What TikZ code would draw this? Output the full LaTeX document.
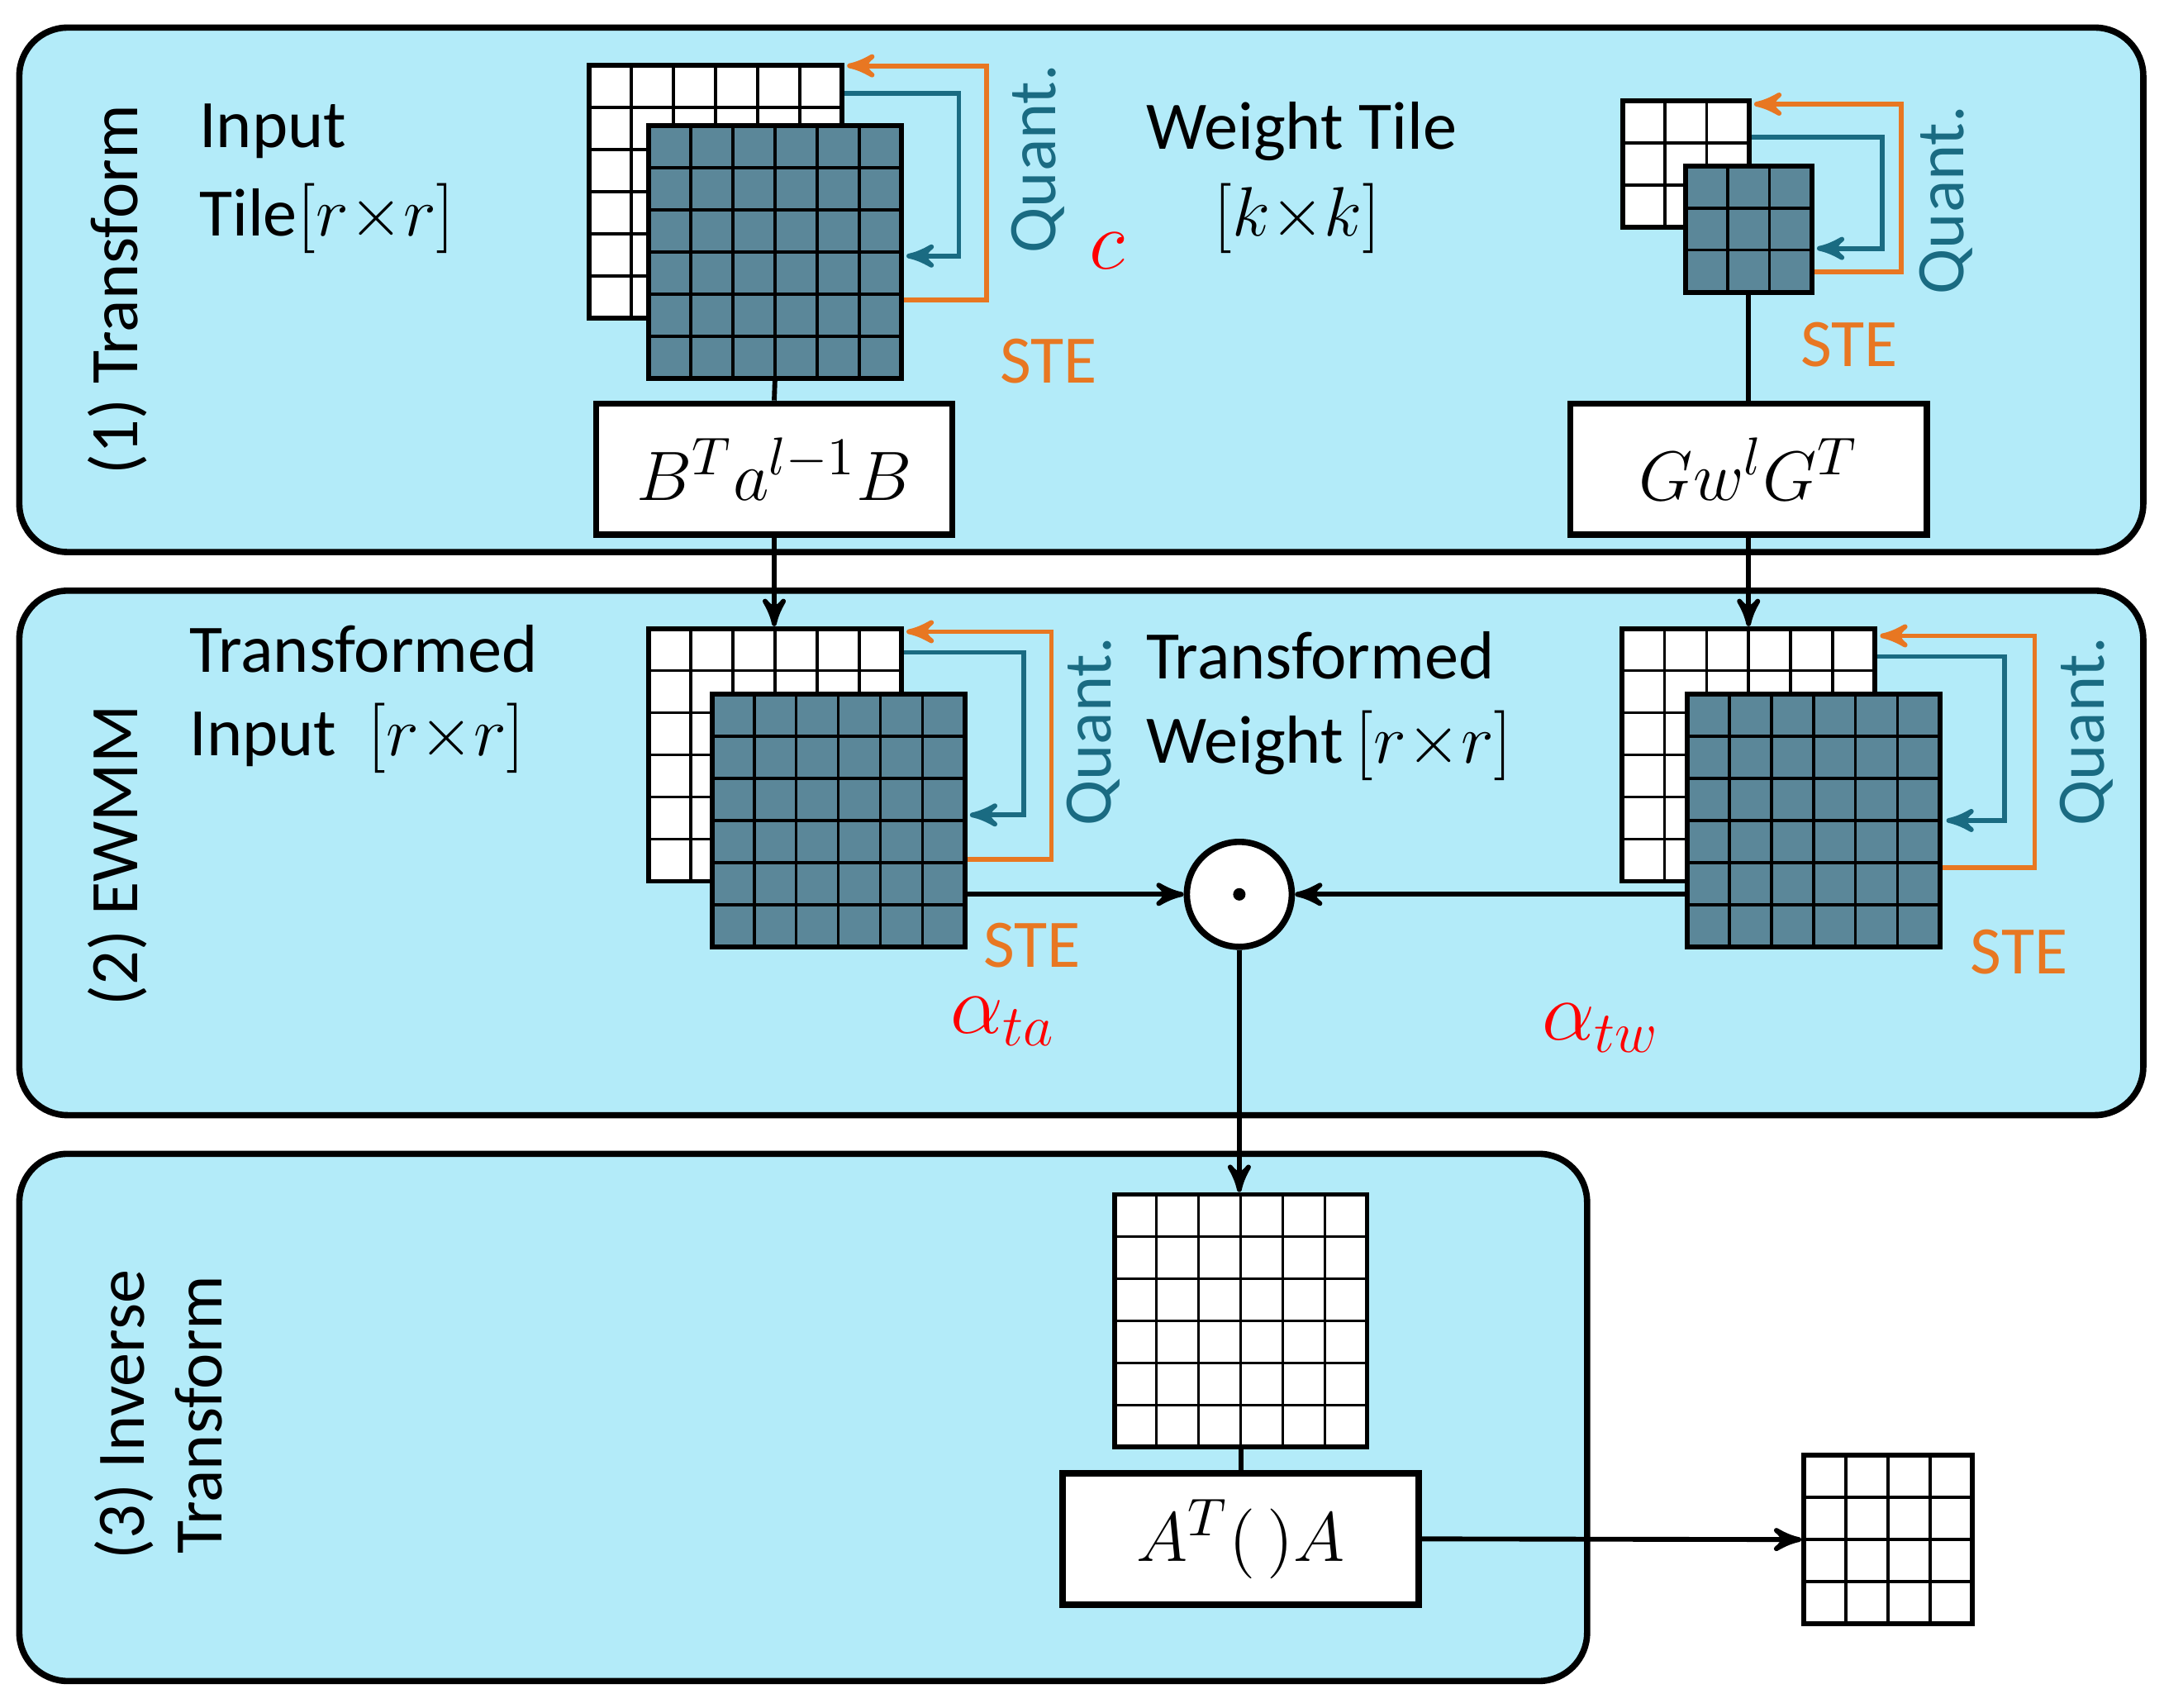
\documentclass[tikz,border=0pt]{standalone}
\usepackage{amsmath}
\usepackage{fontspec}
\setmainfont{Carlito}
\usetikzlibrary{arrows,calc}

\definecolor{panelfill}{HTML}{B3EBF9}
\definecolor{tiledark}{HTML}{5B8799}
\definecolor{quantc}{HTML}{1A6B82}
\definecolor{stec}{HTML}{E87722}

\tikzset{
  panel/.style={draw, line width=1.3pt, fill=panelfill, rounded corners=0.35cm},
  cells/.style={draw, line width=1pt, inner sep=0pt, minimum size=#1*0.305cm,
    path picture={\foreach \k in {1,...,#1} {
      \draw[line width=0.6pt] ({(\k-#1/2)*0.305cm},{-#1*0.1525cm}) -- ++(0,{#1*0.305cm});
      \draw[line width=0.6pt] ({-#1*0.1525cm},{(\k-#1/2)*0.305cm}) -- ++({#1*0.305cm},0);}}},
  lite/.style={cells=#1, fill=white},
  dark/.style={cells=#1, fill=tiledark},
  op/.style={draw, line width=1.3pt, fill=white, minimum width=2.58cm, minimum height=0.95cm,
    font=\fontsize{15}{17}\selectfont},
  quant/.style={draw=quantc, line width=1pt, ->},
  ste/.style={draw=stec, line width=1pt, ->},
  qlabel/.style={text=quantc, rotate=90, font=\fontsize{14}{16}\selectfont},
  slabel/.style={text=stec, font=\fontsize{14}{16}\selectfont},
  alab/.style={text=red, font=\fontsize{18}{20}\selectfont},
  txt/.style={font=\fontsize{14}{16}\selectfont},
  flow/.style={draw, line width=1pt, ->}
}

\begin{document}
\begin{tikzpicture}[x=0.01cm, y=-0.01cm, >=stealth']
  \useasboundingbox (0,0) rectangle (1568,1237);

  % panels
  \draw[panel] (14,20) rectangle (1553,400);
  \draw[panel] (14,428) rectangle (1553,808);
  \draw[panel] (14,836) rectangle (1150,1218);

  \node[txt, rotate=90] (lab1) at (85,210) {(1) Transform};
  \node[txt, rotate=90] (lab2) at (85,620) {(2) EWMM};
  \node[txt, rotate=90, align=center] (lab3) at (115,1025) {(3) Inverse\\Transform};

  % (1) transform
  \node[txt, anchor=west] (inTxt) at (132,95) {Input};
  \node[txt, anchor=west] (inTxt2) at (132,158) {Tile$[r{\times}r]$};
  \node[lite=6] (inW) at (518.5,139) {};
  \node[dark=6] (inD) at (561.5,182.5) {};
  \draw[quant] ($(inW.north east)+(0,22)$) -- ++(83,0) |- ($(inD.east)+(2,3)$);
  \draw[ste] ($(inD.east)+(0,35)$) -- ++(60,0) |- ($(inW.north east)+(2,2)$);
  \node[qlabel] (q1) at (752,115) {Quant.};
  \node[slabel] (s1) at (760,262) {STE};
  \node[alab] (c) at (802,182) {$c$};
  \node[op] (bab) at (561,340) {$B^{T}a^{l-1}B$};
  \draw[line width=1pt] (inD.south) -- (bab.north);

  \node[txt] (wtTxt) at (943,95) {Weight Tile};
  \node[txt] (wtTxt2) at (940,158) {$[k{\times}k]$};
  \node[lite=3] (wtW) at (1221.5,119) {};
  \node[dark=3] (wtD) at (1267,166) {};
  \draw[quant] ($(wtW.north east)+(0,28)$) -- ++(95,0) |- ($(wtD.east)+(2,14)$);
  \draw[ste] ($(wtD.east)+(0,31)$) -- ++(63,0) |- ($(wtW.north east)+(2,4)$);
  \node[qlabel] (q2) at (1410,145) {Quant.};
  \node[slabel] (s2) at (1340,250) {STE};
  \node[op] (gwg) at (1267,340) {$Gw^{l}G^{T}$};
  \draw[line width=1pt] (wtD.south) -- (gwg.north);

  % (2) EWMM
  \node[txt, anchor=west] (tiTxt) at (125,470) {Transformed};
  \node[txt, anchor=west] (tiTxt2) at (125,535) {Input\ \ $[r{\times}r]$};
  \node[lite=6] (tiW) at (561.5,547) {};
  \node[dark=6] (tiD) at (607.5,594.5) {};
  \draw[quant] ($(tiW.north east)+(0,19)$) -- ++(87,0) |- ($(tiD.east)+(2,-4)$);
  \draw[ste] ($(tiD.east)+(0,28)$) -- ++(61,0) |- ($(tiW.north east)+(2,4)$);
  \node[qlabel] (q3) at (792,530) {Quant.};
  \node[slabel] (s3) at (748,685) {STE};
  \node[alab] (ata) at (727,740) {$\alpha_{ta}$};

  \node[txt, anchor=west] (twTxt) at (818,475) {Transformed};
  \node[txt, anchor=west] (twTxt2) at (818,540) {Weight$\,[r{\times}r]$};
  \node[lite=6] (twW) at (1267,547) {};
  \node[dark=6] (twD) at (1314,594.5) {};
  \draw[quant] ($(twW.north east)+(0,22)$) -- ++(92,0) |- ($(twD.east)+(3,0)$);
  \draw[ste] ($(twD.east)+(0,34)$) -- ++(67,0) |- ($(twW.north east)+(2,7)$);
  \node[qlabel] (q4) at (1512,530) {Quant.};
  \node[slabel] (s4) at (1463,690) {STE};
  \node[alab] (atw) at (1160,745) {$\alpha_{tw}$};

  \draw[flow] (bab.south) -- (tiW.north -| bab.south);
  \draw[flow] (gwg.south) -- (twW.north);

  \node[draw, circle, line width=1.3pt, fill=white, minimum size=0.76cm, inner sep=0pt] (mul) at (898,648) {};
  \fill (mul.center) circle (0.045cm);
  \draw[flow] (tiD.east |- mul) -- (mul.west);
  \draw[flow] (twD.west |- mul) -- (mul.east);

  % (3) inverse transform
  \node[lite=6] (out) at (899,957) {};
  \draw[flow] (mul.south) -- (out.north -| mul.south);
  \node[op] (ata2) at (899,1115) {$A^{T}(\,)A$};
  \draw[line width=1pt] (out.south) -- (ata2.north);
  \node[lite=4] (res) at (1368,1115.5) {};
  \draw[flow] (ata2.east) -- (res.west);
\end{tikzpicture}
\end{document}
